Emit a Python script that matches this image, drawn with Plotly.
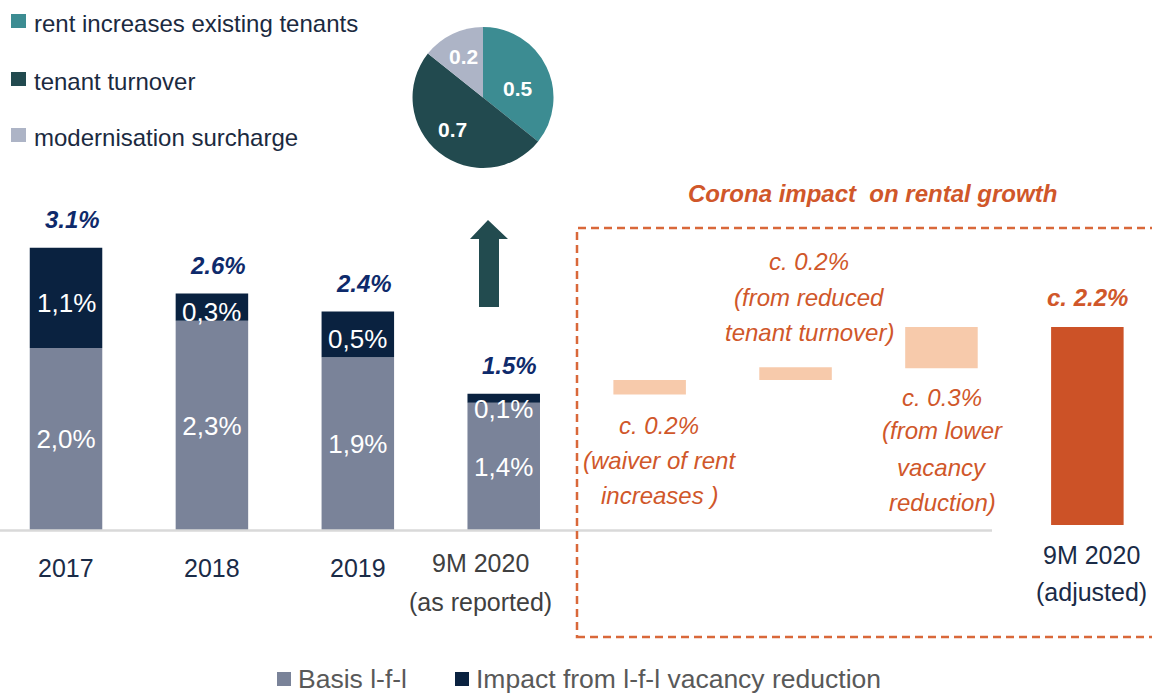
import plotly.graph_objects as go

# data
categories = ["2017", "2018", "2019", "9M 2020 (as reported)",
              "waiver", "turnover", "vacancy", "9M 2020 (adjusted)"]
year_labels = [["2017"], ["2018"], ["2019"], ["9M 2020", "(as reported)"]]
basis_lfl = [2.0, 2.3, 1.9, 1.4]
vacancy_impact = [1.1, 0.3, 0.5, 0.1]
totals = [3.1, 2.6, 2.4, 1.5]

corona_base = [1.49, 1.65, 1.78]
corona_top = [1.65, 1.79, 2.23]
corona_labels = [["c. 0.2%", "(waiver of rent", "increases )"],
                 ["c. 0.2%", "(from reduced", "tenant turnover)"],
                 ["c. 0.3%", "(from lower", "vacancy", "reduction)"]]
adjusted_base = 0.06
adjusted_top = 2.23
adjusted_label = "c. 2.2%"
adjusted_cat = ["9M 2020", "(adjusted)"]

pie_names = ["rent increases existing tenants", "tenant turnover", "modernisation surcharge"]
pie_values = [0.5, 0.7, 0.2]

W, H = 1152, 693
FONT = "Liberation Sans, Arial, sans-serif"
GREY_BAR = "#7a8399"
NAVY = "#0a2240"
ORANGE = "#cc5227"
ORANGE_TXT = "#d0572a"
PEACH = "#f7caab"
PIE_COLORS = ["#3c8c92", "#224a4f", "#adb4c6"]


def fx(p):
    return p / W


def fy(p):
    return 1 - p / H


def fmt_de(v):
    return f"{v:.1f}%".replace(".", ",")


def text_at(x, y, text, size, color, xref="paper", xshift=0, xanchor="center"):
    return dict(x=x, y=fy(y), xref=xref, yref="paper", text=text, showarrow=False,
                xanchor=xanchor, yanchor="middle", xshift=xshift,
                font=dict(family=FONT, size=size, color=color))


fig = go.Figure()

fig.add_trace(go.Bar(
    x=categories[:4], y=basis_lfl, name="Basis l-f-l",
    marker=dict(color=GREY_BAR, line=dict(width=0)),
    text=[fmt_de(v) for v in basis_lfl], textposition="inside",
    insidetextanchor="middle",
    textfont=dict(family=FONT, size=26, color="white"),
    showlegend=False,
))
fig.add_trace(go.Bar(
    x=categories[:4], y=vacancy_impact, base=basis_lfl,
    name="Impact from l-f-l vacancy reduction",
    marker=dict(color=NAVY, line=dict(width=0)),
    showlegend=False,
))
fig.add_trace(go.Bar(
    x=categories[4:7], y=[t - b for b, t in zip(corona_base, corona_top)],
    base=corona_base, marker=dict(color=PEACH, line=dict(width=0)),
    showlegend=False,
))
fig.add_trace(go.Bar(
    x=categories[7:], y=[adjusted_top - adjusted_base], base=[adjusted_base],
    marker=dict(color=ORANGE, line=dict(width=0)),
    showlegend=False,
))

fig.add_trace(go.Pie(
    labels=pie_names, values=pie_values, sort=False, direction="clockwise",
    rotation=0, marker=dict(colors=PIE_COLORS, line=dict(width=0)),
    textinfo="none",
    domain=dict(x=[fx(412), fx(554)], y=[fy(168), fy(27)]),
    showlegend=False,
))

annotations = []
# pie slice values
for v, (x, y) in zip(pie_values, [(518, 88), (452, 129), (463, 57)]):
    annotations.append(text_at(fx(x), y, f"<b>{v:.1f}</b>", 21, "white"))

# totals above the stacked bars, impact labels inside the dark segments
for i, (b, v, t) in enumerate(zip(basis_lfl, vacancy_impact, totals)):
    annotations.append(dict(
        x=i, y=t, xref="x", yref="y", text=f"<b><i>{t:.1f}%</i></b>",
        showarrow=False, xanchor="center", yanchor="middle", xshift=6, yshift=28,
        font=dict(family=FONT, size=24, color="#0e2a6b")))
    annotations.append(dict(
        x=i, y=b + v / 2, xref="x", yref="y", text=fmt_de(v),
        showarrow=False, xanchor="center", yanchor="middle",
        yshift=-5 if v >= 0.3 else -11,
        font=dict(family=FONT, size=26, color="white")))

# category labels
for i, lines in enumerate(year_labels):
    if len(lines) == 1:
        annotations.append(text_at(i, 568, lines[0], 25, "#1a2b47", xref="x"))
    else:
        for line, y in zip(lines, [563, 602]):
            annotations.append(text_at(i, y, line, 25, "#404040", xref="x", xshift=-23))
for line, y in zip(adjusted_cat, [555, 592]):
    annotations.append(text_at(7, y, line, 25, "#1a2b47", xref="x", xshift=4))

# corona labels
corona_x = [659, 809, 942]
corona_y = [[425, 460, 495], [262, 298, 332], [397, 430, 467, 502]]
for lines, x, ys in zip(corona_labels, corona_x, corona_y):
    for line, y in zip(lines, ys):
        annotations.append(text_at(fx(x), y, f"<i>{line}</i>", 24, ORANGE_TXT))
annotations.append(dict(
    x=7, y=adjusted_top, xref="x", yref="y",
    text=f"<b><i>{adjusted_label}</i></b>", showarrow=False,
    xanchor="center", yanchor="middle", yshift=30,
    font=dict(family=FONT, size=24, color=ORANGE_TXT)))
annotations.append(text_at(fx(872), 193, "<b><i>Corona impact  on rental growth</i></b>",
                           24, ORANGE_TXT))

shapes = []
# pie legend (top left)
for i, (name, col) in enumerate(zip(pie_names, PIE_COLORS)):
    top = [14, 72, 128][i]
    shapes.append(dict(type="rect", xref="paper", yref="paper",
                       x0=fx(11), x1=fx(26), y0=fy(top + 14), y1=fy(top),
                       fillcolor=col, line=dict(width=0)))
    annotations.append(text_at(fx(32), top + 9, name, 24, "#1b2a3f", xanchor="left"))

# bar legend (bottom)
for name, col, x0 in [("Basis l-f-l", GREY_BAR, 277),
                      ("Impact from l-f-l vacancy reduction", NAVY, 455)]:
    shapes.append(dict(type="rect", xref="paper", yref="paper",
                       x0=fx(x0), x1=fx(x0 + 14), y0=fy(686), y1=fy(672),
                       fillcolor=col, line=dict(width=0)))
    annotations.append(text_at(fx(x0 + 19), 679, name, 26.5, "#595959", xanchor="left"))

# baseline
shapes.append(dict(type="line", xref="paper", yref="y", x0=0, x1=fx(992),
                   y0=0, y1=0, line=dict(color="#d9d9d9", width=2.5)))

# dashed frame
shapes.append(dict(type="rect", xref="paper", yref="paper",
                   x0=fx(577), x1=fx(1170), y0=fy(637), y1=fy(228),
                   line=dict(color="#d9683a", width=2.5, dash="8px,5px")))

# arrow
pts = [(479, 307), (479, 239), (470, 239), (488, 220), (508, 239), (499, 239), (499, 307)]
path = "M " + " L ".join(f"{fx(a):.5f},{fy(b):.5f}" for a, b in pts) + " Z"
shapes.append(dict(type="path", xref="paper", yref="paper", path=path,
                   fillcolor="#224b4f", line=dict(width=0)))

fig.update_layout(
    width=W, height=H,
    margin=dict(l=0, r=0, t=0, b=0),
    paper_bgcolor="white", plot_bgcolor="white",
    barmode="overlay", bargap=0.503,
    uniformtext=dict(minsize=21, mode="show"),
    xaxis=dict(range=[-0.4524, 7.443], visible=False, categoryorder="array",
               categoryarray=categories),
    yaxis=dict(range=[-1.782, 5.817], visible=False),
    annotations=annotations, shapes=shapes,
)

fig.write_html("out.html", config={"displayModeBar": False},
               post_script="document.body.style.margin='0';document.body.style.overflow='hidden';")
